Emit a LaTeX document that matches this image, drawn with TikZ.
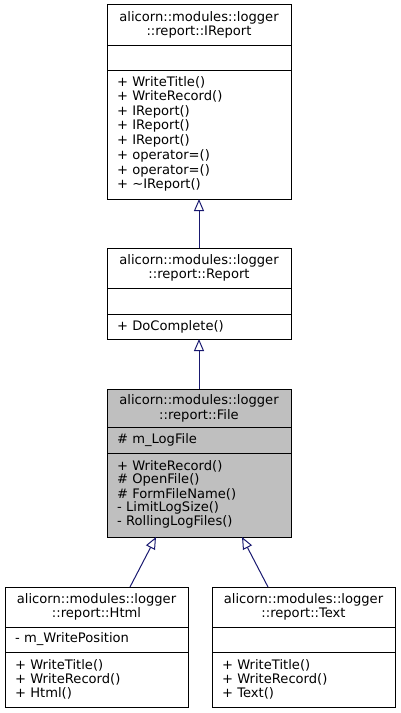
\documentclass[tikz,border=0pt]{standalone}
\usepackage{fontspec}
\setmainfont{DejaVu Sans}
\usetikzlibrary{arrows.meta,calc}
\definecolor{edgeblue}{HTML}{191970}
\definecolor{boxgrey}{HTML}{BFBFBF}
\tikzset{
  classbox/.style={draw=black, line width=1bp, anchor=north west, inner sep=0pt, outer sep=0pt},
  ttl/.style={anchor=center, inner sep=0pt, font=\fontsize{13.1bp}{15bp}\selectfont},
  mem/.style={anchor=west, inner sep=0pt, font=\fontsize{13.1bp}{15bp}\selectfont},
  sepline/.style={draw=black, line width=1bp},
  inherit/.style={draw=edgeblue, line width=1bp, -{Triangle[open, length=12bp, width=10bp, line width=1bp]}}
}
\begin{document}
\begin{tikzpicture}[x=1bp, y=-1bp]
\useasboundingbox (0,0) rectangle (400,713);
% IReport
\node[classbox, minimum width=184bp, minimum height=194bp] (ireport) at (107,5) {};
\draw[sepline] (107,46) -- (291,46) (107,71) -- (291,71);
\node[ttl] (ireportt1) at (199,17.5) {alicorn::modules::logger};
\node[ttl] (ireportt2) at (199,32.5) {::report::IReport};
\node[mem] (ir1) at (117,82) {+ WriteTitle()};
\node[mem] (ir2) at (117,96.8) {+ WriteRecord()};
\node[mem] (ir3) at (117,111.5) {+ IReport()};
\node[mem] (ir4) at (117,126.3) {+ IReport()};
\node[mem] (ir5) at (117,141) {+ IReport()};
\node[mem] (ir6) at (117,155.8) {+ operator=()};
\node[mem] (ir7) at (117,170.5) {+ operator=()};
\node[mem] (ir8) at (117,185.3) {+ \char"223C IReport()};
% Report
\node[classbox, minimum width=184bp, minimum height=91bp] (report) at (107,248) {};
\draw[sepline] (107,288) -- (291,288) (107,314) -- (291,314);
\node[ttl] (reportt1) at (199,260.5) {alicorn::modules::logger};
\node[ttl] (reportt2) at (199,275.5) {::report::Report};
\node[mem] (rp1) at (117,326.5) {+ DoComplete()};
% File
\node[classbox, fill=boxgrey, minimum width=184bp, minimum height=148bp] (file) at (107,389) {};
\draw[sepline] (107,427) -- (291,427) (107,453) -- (291,453);
\node[ttl] (filet1) at (199,400.5) {alicorn::modules::logger};
\node[ttl] (filet2) at (199,415.5) {::report::File};
\node[mem] (fa1) at (117,440.5) {\# m\_LogFile};
\node[mem] (fm1) at (117,466) {+ WriteRecord()};
\node[mem] (fm2) at (117,480) {\# OpenFile()};
\node[mem] (fm3) at (117,494) {\# FormFileName()};
\node[mem] (fm4) at (117,508) {- LimitLogSize()};
\node[mem] (fm5) at (117,522) {- RollingLogFiles()};
% Html
\node[classbox, minimum width=183bp, minimum height=120bp] (html) at (5,587) {};
\draw[sepline] (5,627) -- (188,627) (5,652) -- (188,652);
\node[ttl] (htmlt1) at (96.5,599.5) {alicorn::modules::logger};
\node[ttl] (htmlt2) at (96.5,614) {::report::Html};
\node[mem] (ha1) at (15,639.5) {- m\_WritePosition};
\node[mem] (hm1) at (15,665) {+ WriteTitle()};
\node[mem] (hm2) at (15,679) {+ WriteRecord()};
\node[mem] (hm3) at (15,693.5) {+ Html()};
% Text
\node[classbox, minimum width=183bp, minimum height=120bp] (text) at (212,587) {};
\draw[sepline] (212,627) -- (395,627) (212,652) -- (395,652);
\node[ttl] (textt1) at (303.5,599.5) {alicorn::modules::logger};
\node[ttl] (textt2) at (303.5,614) {::report::Text};
\node[mem] (tm1) at (222,665) {+ WriteTitle()};
\node[mem] (tm2) at (222,679) {+ WriteRecord()};
\node[mem] (tm3) at (222,693.5) {+ Text()};
% inheritance
\draw[inherit] (report.north) -- (ireport.south);
\draw[inherit] (file.north) -- (report.south);
\draw[inherit] ($(html.north)+(33.5,0)$) -- ($(file.south)+(-43,0)$);
\draw[inherit] ($(text.north)+(-35.5,0)$) -- ($(file.south)+(43,0)$);
\end{tikzpicture}
\end{document}
